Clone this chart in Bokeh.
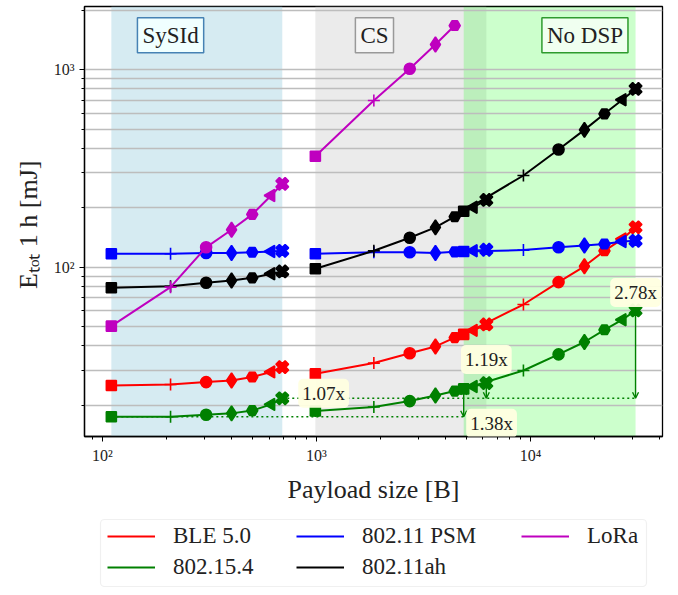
import numpy as np
from bokeh.plotting import figure
from bokeh.layouts import column
from bokeh.models import (ColumnDataSource, Range1d, FixedTicker, BoxAnnotation, Label,
                          Legend, LegendItem, Arrow, OpenHead)
from bokeh.embed import file_html
from bokeh.resources import INLINE

# ---------------- data ----------------
x_sysid = [110, 208, 305, 401, 501, 614, 692]
x_cs = [988, 1854, 2728, 3597, 4426, 5420, 6220]
x_nodsp = [4875, 9270, 13530, 17870, 22170, 26900, 30980]

ble_sysid = [25.2, 25.5, 26.2, 26.7, 27.8, 29.5, 31.2]
ble_cs = [28.9, 32.7, 36.7, 39.7, 44.0, 47.9, 51.3]
ble_nodsp = [45.7, 64.7, 84.0, 101.0, 121.0, 139.0, 159.0]

zb_sysid = [17.5, 17.5, 17.9, 18.2, 18.8, 20.2, 21.7]
zb_cs = [18.7, 19.6, 21.0, 22.4, 23.6, 24.9, 25.9]
zb_nodsp = [24.2, 30.0, 36.2, 41.8, 48.2, 54.2, 60.4]

psm_sysid = [117, 117, 118, 118, 119, 120, 121]
psm_cs = [117, 119, 119, 118, 119.5, 121, 122.5]
psm_nodsp = [120, 122, 126, 128.7, 131, 134.8, 136]

ah_sysid = [78.7, 80.0, 83.4, 85.6, 88.3, 92.6, 95.1]
ah_cs = [98.1, 121, 140.8, 159, 180, 201, 219]
ah_nodsp = [192, 291, 394, 495, 597, 703, 798]

lora_sysid = [50.3, 79.2, 126, 154.6, 185, 230.5, 264]
lora_cs = [364, 697, 1009, 1340, 1670]

series_names = ["BLE 5.0", "802.15.4", "802.11 PSM", "802.11ah", "LoRa"]
region_names = ["SySId", "CS", "No DSP"]
ratio_labels = ["1.07x", "1.38x", "1.19x", "2.78x"]

x_ticks = [100, 1000, 10000]
x_tick_labels = ["10\u00b2", "10\u00b3", "10\u2074"]
y_ticks = [100, 1000]
y_tick_labels = ["10\u00b2", "10\u00b3"]

# ---------------- styles ----------------
FONT = "Liberation Serif"
colors = {"BLE 5.0": "#ff0000", "802.15.4": "#008000", "802.11 PSM": "#0000ff",
          "802.11ah": "#000000", "LoRa": "#bf00bf"}
marker_types = ["square", "cross", "circle", "diamond", "hex", "triangle", "plus"]
marker_angles = [0, 0, 0, 0, 0, np.pi / 2, np.pi / 4]
marker_sizes = [10, 12, 11, 15, 11, 12, 13]

FRAME_L, FRAME_T, FRAME_B = 84, 6, 436
W, H_MAIN, H_LEG = 670, 510, 77

p = figure(x_axis_type="log", y_axis_type="log", width=W, height=H_MAIN,
           x_range=Range1d(82.4, 41400), y_range=Range1d(13.9, 2085),
           output_backend="svg", toolbar_location=None,
           min_border_left=FRAME_L, min_border_right=8, min_border_top=FRAME_T,
           min_border_bottom=H_MAIN - FRAME_B)
p.background_fill_color = "white"
p.border_fill_color = "white"
p.outline_line_color = "black"
p.outline_line_width = 1.3

# shaded regions
shade = [(x_sysid, "#add8e6", 0.5), (x_cs, "#d3d3d3", 0.45), (x_nodsp, "#00ff00", 0.2)]
for xs, c, a in shade:
    p.add_layout(BoxAnnotation(left=xs[0], right=xs[-1], fill_color=c, fill_alpha=a,
                               line_color=None, level="image"))

# axes & grid
minor_x = [90] + [m * d for d in (100, 1000, 10000) for m in range(2, 10) if m * d < 41400]
minor_y = [m * d for d in (10, 100, 1000) for m in range(2, 10) if 13.9 < m * d < 2085]
p.xaxis.ticker = FixedTicker(ticks=x_ticks, minor_ticks=minor_x)
p.yaxis.ticker = FixedTicker(ticks=y_ticks, minor_ticks=minor_y)
p.xaxis.major_label_overrides = dict(zip(x_ticks, x_tick_labels))
p.yaxis.major_label_overrides = dict(zip(y_ticks, y_tick_labels))
p.xgrid.grid_line_color = None
p.ygrid.ticker = FixedTicker(ticks=y_ticks, minor_ticks=minor_y)
p.ygrid.grid_line_color = "#bdbdbd"
p.ygrid.grid_line_width = 1.3
p.ygrid.minor_grid_line_color = "#bdbdbd"
p.ygrid.minor_grid_line_width = 1.3
for ax in (p.xaxis, p.yaxis):
    ax.axis_line_color = "black"
    ax.axis_line_width = 1.3
    ax.major_tick_in = 0
    ax.major_tick_out = 5
    ax.minor_tick_in = 0
    ax.minor_tick_out = 3
    ax.major_tick_line_color = "black"
    ax.minor_tick_line_color = "black"
    ax.major_label_text_font = FONT
    ax.major_label_text_font_size = "16px"
    ax.major_label_text_color = "#222222"
    ax.axis_label_text_font = FONT
    ax.axis_label_text_font_size = "26px"
    ax.axis_label_text_font_style = "normal"
    ax.axis_label_text_color = "#222222"
p.xaxis.axis_label = "Payload size [B]"
p.yaxis.axis_label = "E\u209c\u2092\u209c  1 h [mJ]"
p.xaxis.axis_label_standoff = 8
p.yaxis.axis_label_standoff = 8

# series
data = [
    ("BLE 5.0", [ble_sysid, ble_cs, ble_nodsp]),
    ("802.15.4", [zb_sysid, zb_cs, zb_nodsp]),
    ("802.11 PSM", [psm_sysid, psm_cs, psm_nodsp]),
    ("802.11ah", [ah_sysid, ah_cs, ah_nodsp]),
    ("LoRa", [lora_sysid, lora_cs]),
]
segments_x = [x_sysid, x_cs, x_nodsp]
for name, segs in data:
    c = colors[name]
    for xs_all, ys in zip(segments_x, segs):
        xs = xs_all[:len(ys)]
        p.line(xs, ys, line_color=c, line_width=2)
        n = len(ys)
        src = ColumnDataSource(dict(x=xs, y=ys, marker=marker_types[:n],
                                    angle=marker_angles[:n], size=marker_sizes[:n]))
        p.scatter(x="x", y="y", marker="marker", angle="angle", size="size", source=src,
                  fill_color=c, line_color=c, line_width=1.6)

# ratio annotations (802.15.4)
green = colors["802.15.4"]
p.line([x_sysid[-1], x_nodsp[-1]], [zb_sysid[-1]] * 2, line_color=green, line_width=1.6,
       line_dash="2 3")
p.line([x_sysid[0], x_nodsp[0]], [zb_sysid[0]] * 2, line_color=green, line_width=1.6,
       line_dash="2 3")
arrows = [
    (x_cs[0], zb_sysid[0], zb_cs[0]),
    (x_nodsp[0], zb_sysid[0], zb_nodsp[0]),
    (x_cs[-1], zb_sysid[-1], zb_cs[-1]),
    (x_nodsp[-1], zb_sysid[-1], zb_nodsp[-1]),
]
for xa, y0, y1 in arrows:
    p.add_layout(Arrow(x_start=xa, y_start=y0, x_end=xa, y_end=y1,
                       start=OpenHead(size=6, line_color=green, line_width=1.4),
                       end=OpenHead(size=6, line_color=green, line_width=1.4),
                       line_color=green, line_width=1.4))

label_pos = [(1080, 23.0), (6580, 16.2), (6220, 34.1), (30980, 74.5)]
for (lx, ly), t in zip(label_pos, ratio_labels):
    p.add_layout(Label(x=lx, y=ly, text=t, text_align="center", text_baseline="middle",
                       text_font=FONT, text_font_size="19px", text_color="#222222",
                       background_fill_color="#ffffe0", background_fill_alpha=0.95,
                       padding=4, border_radius=5))

# region boxes
region_pos = [(208, 1493, "#4682b4", "#f0ffff"), (1866, 1493, "#999999", "#f5f5f5"),
              (17970, 1493, "#2e9b2e", "#f0fff0")]
for (rx, ry, bc, fc), t in zip(region_pos, region_names):
    p.add_layout(Label(x=rx, y=ry, text=t, text_align="center", text_baseline="middle",
                       text_font=FONT, text_font_size="23px", text_color="#222222",
                       background_fill_color=fc, background_fill_alpha=1.0,
                       border_line_color=bc, border_line_width=1.5, padding=5))

# ---------------- legend (separate strip below) ----------------
pl = figure(width=W, height=H_LEG, x_range=Range1d(0, 1), y_range=Range1d(0, 1),
            output_backend="svg", toolbar_location=None,
            x_axis_location=None, y_axis_location=None,
            min_border_left=FRAME_L, min_border_right=8, min_border_top=0,
            min_border_bottom=0)
pl.outline_line_color = None
pl.grid.visible = False
pl.border_fill_color = "white"
# legend swatches only (their data sits outside the strip's range, so only the key shows)
leg_r = {n: pl.line(x=[5, 6], y=[5, 6], line_color=colors[n], line_width=2)
         for n in series_names}

pl.add_layout(BoxAnnotation(left=100, right=646, top=9, bottom=76,
                            left_units="canvas", right_units="canvas",
                            top_units="canvas", bottom_units="canvas",
                            fill_color="white", fill_alpha=1.0,
                            line_color="#cccccc", line_width=1.2, border_radius=4,
                            level="underlay"))
columns = [(["BLE 5.0", "802.15.4"], 107), (["802.11 PSM", "802.11ah"], 296), (["LoRa"], 521)]
ROW_TOP, ROW_H, ROW_GAP = 13, 26, 5
for names, left in columns:
    nrow = len(names)
    bottom = ROW_TOP + nrow * ROW_H + (nrow - 1) * ROW_GAP
    lg = Legend(items=[LegendItem(label=n, renderers=[leg_r[n]]) for n in names],
                location=(left - FRAME_L, H_LEG - bottom), orientation="vertical",
                label_text_font=FONT, label_text_font_size="23px", label_text_color="#222222",
                glyph_width=48, glyph_height=ROW_H, label_height=ROW_H, label_standoff=18,
                spacing=ROW_GAP, padding=0, margin=0, border_line_color=None,
                background_fill_alpha=0.0)
    pl.add_layout(lg)

layout = column(p, pl, spacing=0)
open("out.html", "w").write(file_html(layout, INLINE))
